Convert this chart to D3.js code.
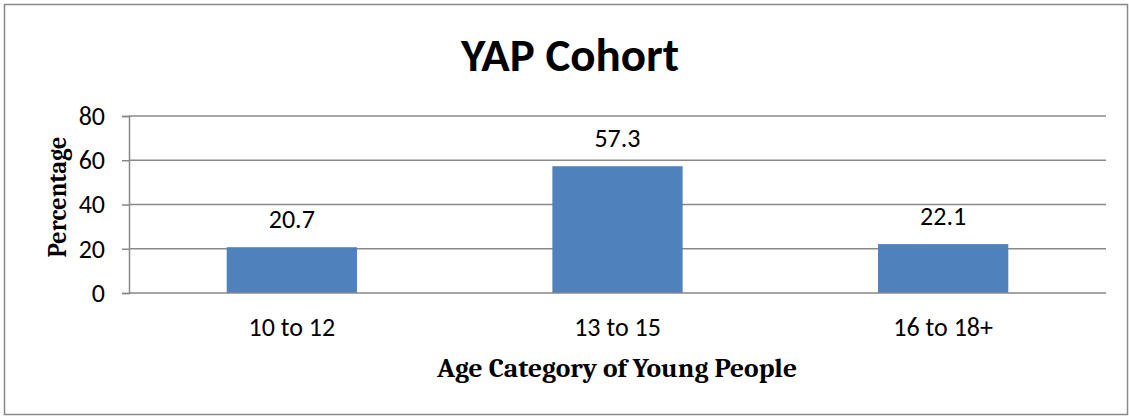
<!DOCTYPE html>
<html>
<head>
<meta charset="utf-8">
<script src="https://cdn.jsdelivr.net/npm/d3@7"></script>
<style>
  html, body { margin: 0; padding: 0; background: #fff; }
  svg { display: block; }
</style>
</head>
<body>
<div id="chart"></div>
<script>
const WIDTH = 1129;
const HEIGHT = 416;

// Data
const categories = ['10 to 12', '13 to 15', '16 to 18+'];
const values = [20.7, 57.3, 22.1];
const yTicks = [0, 20, 40, 60, 80];

const sansFont = 'Carlito, Calibri, Lato, "Open Sans", sans-serif';
const serifFont = 'Cambria, Caladea, "Liberation Serif", "DejaVu Serif", serif';
const gridColor = '#898989';
const barColor = '#4f81bd';

const plot = { left: 129, right: 1106, top: 116, bottom: 293 };

const svg = d3.select('#chart')
  .append('svg')
  .attr('width', WIDTH)
  .attr('height', HEIGHT);

// Outer chart border
svg.append('rect')
  .attr('x', 4.5)
  .attr('y', 4.5)
  .attr('width', 1123)
  .attr('height', 410)
  .attr('fill', '#fff')
  .attr('stroke', gridColor)
  .attr('stroke-width', 1.5);

const x = d3.scaleBand()
  .domain(categories)
  .range([plot.left, plot.right])
  .paddingInner(0.6)
  .paddingOuter(0.3);

const y = d3.scaleLinear()
  .domain([0, 80])
  .range([plot.bottom, plot.top]);

// Gridlines
svg.append('g')
  .selectAll('line')
  .data(yTicks.filter(d => d > 0))
  .enter()
  .append('line')
  .attr('x1', plot.left)
  .attr('x2', plot.right)
  .attr('y1', d => y(d))
  .attr('y2', d => y(d))
  .attr('stroke', gridColor)
  .attr('stroke-width', 1.5);

// Y axis
const yAxis = svg.append('g')
  .attr('transform', `translate(${plot.left},0)`)
  .call(d3.axisLeft(y).tickValues(yTicks).tickSize(7).tickPadding(17));

yAxis.select('.domain').attr('stroke', gridColor).attr('stroke-width', 1.5);
yAxis.selectAll('.tick line').attr('stroke', gridColor).attr('stroke-width', 1.5);
yAxis.selectAll('.tick text')
  .style('font-family', sansFont)
  .style('font-size', '26px')
  .attr('fill', '#000');

// Bars
svg.append('g')
  .selectAll('rect')
  .data(values)
  .enter()
  .append('rect')
  .attr('x', (d, i) => x(categories[i]))
  .attr('y', d => y(d))
  .attr('width', x.bandwidth())
  .attr('height', d => y(0) - y(d))
  .attr('fill', barColor);

// X axis baseline
const xAxis = svg.append('g')
  .attr('transform', `translate(0,${plot.bottom})`)
  .call(d3.axisBottom(x).tickSize(0).tickPadding(25));

xAxis.select('.domain')
  .attr('d', `M${plot.left},0H${plot.right}`)
  .attr('stroke', gridColor)
  .attr('stroke-width', 1.5);
xAxis.selectAll('.tick text')
  .style('font-family', sansFont)
  .style('font-size', '26px')
  .attr('fill', '#000');

// Data labels
svg.append('g')
  .selectAll('text')
  .data(values)
  .enter()
  .append('text')
  .attr('x', (d, i) => x(categories[i]) + x.bandwidth() / 2)
  .attr('y', d => y(d) - 19)
  .attr('text-anchor', 'middle')
  .style('font-family', sansFont)
  .style('font-size', '26px')
  .text(d => d.toFixed(1));

// Title
svg.append('text')
  .attr('x', 570)
  .attr('y', 71)
  .attr('text-anchor', 'middle')
  .style('font-family', sansFont)
  .style('font-size', '47px')
  .style('font-weight', 'bold')
  .text('YAP Cohort');

// Axis titles
svg.append('text')
  .attr('x', 617)
  .attr('y', 377)
  .attr('text-anchor', 'middle')
  .attr('textLength', 360)
  .attr('lengthAdjust', 'spacingAndGlyphs')
  .style('font-family', serifFont)
  .style('font-size', '27px')
  .style('font-weight', 'bold')
  .text('Age Category of Young People');

svg.append('text')
  .attr('transform', 'translate(66,197) rotate(-90)')
  .attr('text-anchor', 'middle')
  .attr('textLength', 121)
  .attr('lengthAdjust', 'spacingAndGlyphs')
  .style('font-family', serifFont)
  .style('font-size', '27px')
  .style('font-weight', 'bold')
  .text('Percentage');
</script>
</body>
</html>
